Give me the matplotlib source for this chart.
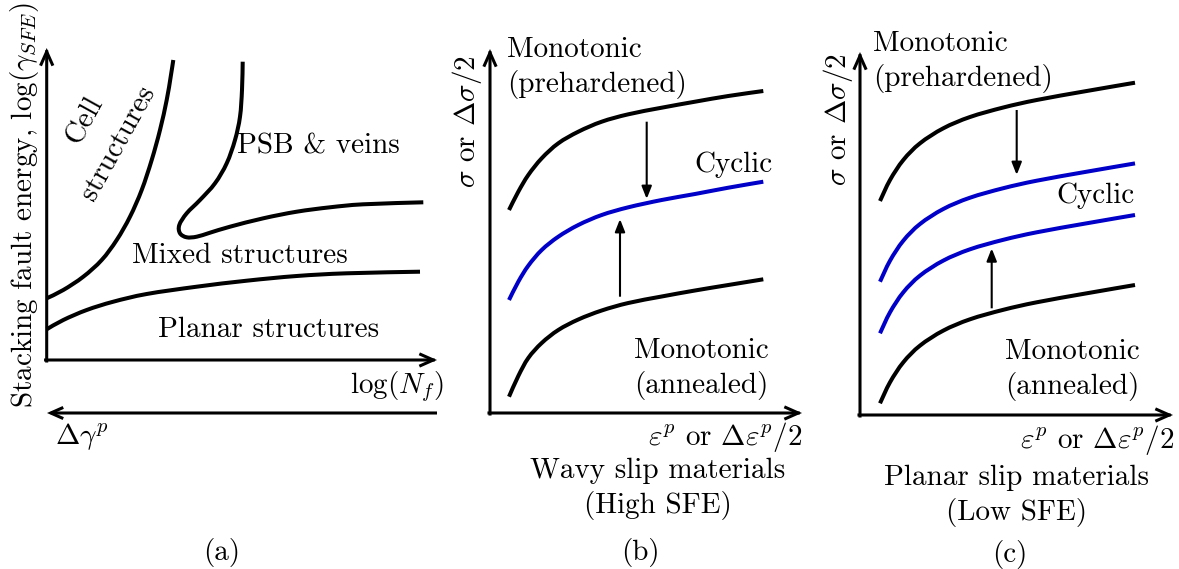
import matplotlib
matplotlib.use("Agg")
import matplotlib.pyplot as plt
from matplotlib.patches import FancyArrowPatch, PathPatch
from matplotlib.path import Path

plt.rcParams['font.family'] = 'cmr10'
plt.rcParams['mathtext.fontset'] = 'cm'
plt.rcParams['axes.unicode_minus'] = False

# ---- panel (a): dislocation structure map (picture pixel coordinates) ----
cell_x = [46.7, 63.3, 83.3, 101.7, 116.7, 130, 141.7, 151.7, 160, 166.7, 170.7, 173.3]
cell_y = [298.3, 290, 276.7, 260, 240, 216.7, 190, 160, 130, 100, 76.7, 60]

planar_x = [46.7, 63.3, 86.7, 113.3, 146.7, 196.7, 246.7, 296.7, 346.7, 420]
planar_y = [329.3, 320, 310, 301.7, 294, 286.7, 280.7, 276, 273.3, 271.7]

psb_x = [242.7, 242, 240, 235, 226.7, 215, 200, 186.7, 179.3, 180, 186.7, 196.7,
         210, 230, 263.3, 296.7, 330, 363.3, 423.3]
psb_y = [61.7, 90, 116.7, 140, 163.3, 183.3, 200, 213.3, 225, 233.3, 237.3, 236.7,
         232.7, 226.7, 218.3, 211.7, 207.3, 204.3, 202.3]

# ---- panel (b): wavy slip materials ----
b_x = [509, 518.3, 528.3, 541.7, 558.3, 578.3, 601.7, 628.3, 661.7, 695, 728.3, 763.3]
b_prehard = [210, 191.7, 175, 158.3, 143.3, 131.7, 121.7, 114.3, 107.7, 101.7, 96, 91]
b_cyclic = [300, 281.7, 265.7, 250, 236.7, 225, 215, 207.3, 200, 194, 187.7, 181.7]
b_anneal = [396.7, 376, 358, 343, 330, 319.5, 310.5, 303, 296.5, 290.5, 285, 279.3]

# ---- panel (c): planar slip materials ----
c_x = [880, 890, 903.3, 920, 943.3, 970, 1003.3, 1036.7, 1086.7, 1135]
c_prehard = [201, 180, 160, 143.3, 128.3, 117, 107.5, 100, 91, 82.7]
c_cyclic_hi = [281.7, 260.7, 240.7, 224, 209, 197.7, 188.2, 180.7, 171.7, 163.4]
c_cyclic_lo = [333.3, 312.3, 292.3, 275.6, 260.6, 249.3, 239.8, 232.3, 223.3, 215]
c_anneal = [403.3, 382.3, 362.3, 345.6, 330.6, 319.3, 309.8, 302.3, 293.3, 285]

BLUE = '#0000c8'
FS = 21
CURVE_LW = 2.9

fig = plt.figure(figsize=(11.79, 5.69), dpi=100)
ax = fig.add_axes([0, 0, 1, 1])
ax.set_xlim(0, 1179)
ax.set_ylim(569, 0)
ax.axis('off')


def arrow(p0, p1, lw=2.2, cap='projecting'):
    a = FancyArrowPatch(p0, p1, arrowstyle='->,head_length=0.45,head_width=0.2',
                        mutation_scale=20, lw=lw, color='k',
                        shrinkA=0, shrinkB=0, capstyle=cap, joinstyle='miter')
    ax.add_patch(a)


def small_arrow(p0, p1):
    a = FancyArrowPatch(p0, p1, arrowstyle='-|>,head_length=0.38,head_width=0.15',
                        mutation_scale=20, lw=1.5, color='k',
                        shrinkA=0, shrinkB=0, capstyle='butt')
    ax.add_patch(a)


def curve(x, y, color='k'):
    # smooth path through the read points (catmull-rom as bezier segments)
    pts = list(zip(x, y))
    verts = [pts[0]]
    codes = [Path.MOVETO]
    n = len(pts)
    for i in range(n - 1):
        p0 = pts[max(i - 1, 0)]
        p1 = pts[i]
        p2 = pts[i + 1]
        p3 = pts[min(i + 2, n - 1)]
        c1 = (p1[0] + (p2[0] - p0[0]) / 6, p1[1] + (p2[1] - p0[1]) / 6)
        c2 = (p2[0] - (p3[0] - p1[0]) / 6, p2[1] - (p3[1] - p1[1]) / 6)
        verts += [c1, c2, p2]
        codes += [Path.CURVE4] * 3
    ax.add_patch(PathPatch(Path(verts, codes), fill=False, edgecolor=color,
                           lw=CURVE_LW, capstyle='butt', joinstyle='round'))


# panel (a)
arrow((46.7, 361), (46.7, 48))
arrow((45.6, 360), (437, 360))
arrow((437, 413), (47, 413), cap='butt')
curve(cell_x, cell_y)
curve(planar_x, planar_y)
curve(psb_x, psb_y)
ax.text(85, 120, 'Cell', fontsize=FS, rotation=61, ha='center', va='center',
        rotation_mode='anchor')
ax.text(118.3, 143.3, 'structures', fontsize=FS, rotation=61, ha='center',
        va='center', rotation_mode='anchor')
ax.text(236.7, 153.3, 'PSB & veins', fontsize=FS, ha='left', va='baseline')
ax.text(131.7, 263.3, 'Mixed structures', fontsize=FS, ha='left', va='baseline')
ax.text(158.3, 336.7, 'Planar structures', fontsize=FS, ha='left', va='baseline')
ax.text(444, 393, r'$\log(N_f)$', fontsize=FS, ha='right', va='baseline')
ax.text(55, 444, r'$\Delta\gamma^p$', fontsize=FS, ha='left', va='baseline')
ax.text(25, 205, r'Stacking fault energy, $\log(\gamma_{SFE})$', fontsize=FS,
        rotation=90, ha='center', va='center')
ax.text(222, 560, '(a)', fontsize=FS, ha='center', va='baseline')

# panel (b)
arrow((490, 414), (490, 49))
arrow((489, 413), (802, 413))
curve(b_x, b_prehard)
curve(b_x, b_cyclic, BLUE)
curve(b_x, b_anneal)
small_arrow((646.7, 121.7), (646.7, 199))
small_arrow((620, 296.7), (620, 219))
ax.text(507, 57.3, 'Monotonic', fontsize=FS, ha='left', va='baseline')
ax.text(507, 91.7, '(prehardened)', fontsize=FS, ha='left', va='baseline')
ax.text(773, 171.7, 'Cyclic', fontsize=FS, ha='right', va='baseline')
ax.text(634, 358.3, 'Monotonic', fontsize=FS, ha='left', va='baseline')
ax.text(634, 393.3, '(annealed)', fontsize=FS, ha='left', va='baseline')
ax.text(803, 445, r'$\varepsilon^p$ or $\Delta\varepsilon^p/2$', fontsize=FS,
        ha='right', va='baseline')
ax.text(657.5, 478.3, 'Wavy slip materials', fontsize=FS, ha='center', va='baseline')
ax.text(657.5, 512.7, '(High SFE)', fontsize=FS, ha='center', va='baseline')
ax.text(640, 560, '(b)', fontsize=FS, ha='center', va='baseline')
ax.text(467, 122, r'$\sigma$ or $\Delta\sigma/2$', fontsize=FS, rotation=90,
        ha='center', va='center')

# panel (c)
arrow((860, 416), (860, 52))
arrow((859, 415), (1173, 415))
curve(c_x, c_prehard)
curve(c_x, c_cyclic_hi, BLUE)
curve(c_x, c_cyclic_lo, BLUE)
curve(c_x, c_anneal)
small_arrow((1016.7, 110), (1016.7, 175))
small_arrow((991.7, 308.3), (991.7, 248.3))
ax.text(872.7, 50.7, 'Monotonic', fontsize=FS, ha='left', va='baseline')
ax.text(872.7, 86, '(prehardened)', fontsize=FS, ha='left', va='baseline')
ax.text(1135, 203.3, 'Cyclic', fontsize=FS, ha='right', va='baseline')
ax.text(1005, 359.3, 'Monotonic', fontsize=FS, ha='left', va='baseline')
ax.text(1005, 394, '(annealed)', fontsize=FS, ha='left', va='baseline')
ax.text(1175, 448.3, r'$\varepsilon^p$ or $\Delta\varepsilon^p/2$', fontsize=FS,
        ha='right', va='baseline')
ax.text(1016.7, 485, 'Planar slip materials', fontsize=FS, ha='center', va='baseline')
ax.text(1016.7, 520, '(Low SFE)', fontsize=FS, ha='center', va='baseline')
ax.text(1010, 561.7, '(c)', fontsize=FS, ha='center', va='baseline')
ax.text(838, 120, r'$\sigma$ or $\Delta\sigma/2$', fontsize=FS, rotation=90,
        ha='center', va='center')

fig.savefig('out.png', dpi=100)
